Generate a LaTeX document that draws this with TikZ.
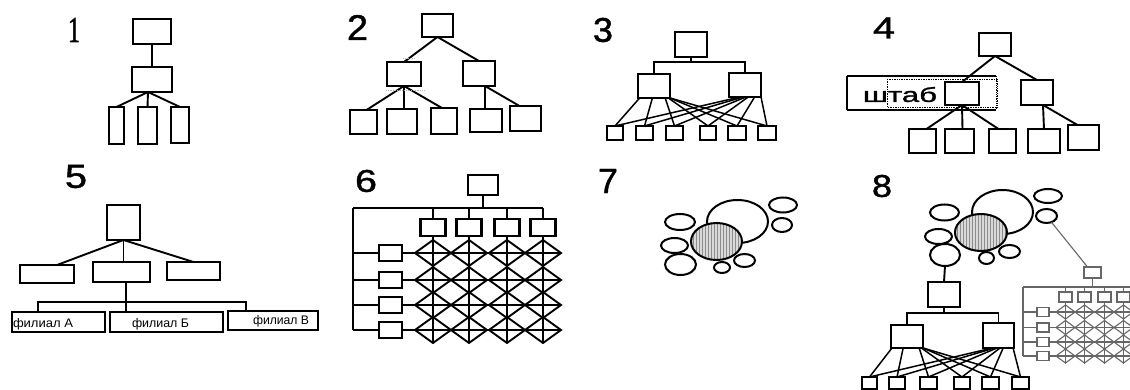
\documentclass[tikz,border=0pt]{standalone}
\usepackage{fontspec}
\setmainfont{Liberation Sans}
\newfontfamily\serifone[FakeBold=1.5]{Liberation Serif}
\newfontfamily\numfont[FakeBold=1.2]{Liberation Sans}
\usepackage{graphicx}
\usetikzlibrary{calc,fit,shapes.geometric,patterns}
\newcommand\mkbox[6][myb]{\node[#1,fit={(#3,#4) (#5,#6)}] (#2) {};}
\tikzset{
 myb/.style={draw, line width=2.1pt, inner sep=0pt, outer sep=0pt, rectangle},
 myl/.style={line width=1.9pt},
 myfan/.style={line width=1.5pt},
 myel/.style={ellipse, draw, line width=2pt, inner sep=0pt, outer sep=0pt},
 mydot/.style={myel, preaction={fill=gray!30}, pattern=vertical lines, pattern color=gray!90},
 mygb/.style={draw=black!60, line width=1.1pt, inner sep=0pt, outer sep=0pt, rectangle},
 mygl/.style={draw=black!60, line width=1.1pt},
 mynum/.style={inner sep=0pt, outer sep=0pt},
}
\begin{document}
\begin{tikzpicture}[x=1pt,y=-1pt]
\useasboundingbox (0,0) rectangle (1130,390);
\fill[white] (0,0) rectangle (1130,390);

% ---------- numbers
\node[mynum] (n1) at (74,30) {\resizebox{12pt}{24pt}{\serifone 1}};
\node[mynum] (n2) at (357.5,27.5) {\resizebox{21pt}{25pt}{\numfont 2}};
\node[mynum] (n3) at (603,30) {\resizebox{20pt}{24pt}{\numfont 3}};
\node[mynum] (n4) at (884,28) {\resizebox{22pt}{21pt}{\numfont 4}};
\node[mynum] (n5) at (76,176.5) {\resizebox{22pt}{23pt}{\numfont 5}};
\node[mynum] (n6) at (366,181) {\resizebox{22pt}{22pt}{\numfont 6}};
\node[mynum] (n7) at (608,181) {\resizebox{20pt}{24pt}{\numfont 7}};
\node[mynum] (n8) at (882,186) {\resizebox{20pt}{22pt}{\numfont 8}};

% ---------- 1
\mkbox{a1}{133}{19}{171}{44}
\mkbox{a2}{132}{67}{172}{92}
\mkbox{a3}{109}{107}{124}{144}
\mkbox{a4}{138}{107}{157}{144}
\mkbox{a5}{171}{107}{189}{143}
\coordinate (j1) at (148,92);
\draw[myl] (a1) -- (a2);
\draw[myl] (j1) -- (a3.north);
\draw[myl] (j1) -- (a4.north);
\draw[myl] (j1) -- (a5.north);

% ---------- 2
\mkbox{b0}{422}{14}{453}{37}
\mkbox{bL}{387}{62}{421}{86}
\mkbox{bR}{463}{61}{495}{86}
\mkbox{b1}{350}{110}{377}{134}
\mkbox{b2}{387}{109}{417}{134}
\mkbox{b3}{431}{108}{457}{134}
\mkbox{b4}{470}{109}{502}{132}
\mkbox{b5}{510}{106}{541}{131}
\draw[myl] (b0.south) -- (bL.north);
\draw[myl] (b0.south) -- (bR.north);
\draw[myl] (bL.south) -- ($(b1.north)+(3,0)$);
\draw[myl] (bL.south) -- ($(b2.north)+(2,0)$);
\draw[myl] (bL.south) -- ($(b3.north)+(-2,0)$);
\coordinate (j2R) at (485,86);
\draw[myl] (j2R) -- ($(b4.north)+(-1,0)$);
\draw[myl] (j2R) -- ($(b5.north)+(-6,0)$);
\draw[gray!60, densely dotted, line width=0.8pt] (403,58) -- (415,58);
\draw[gray!60, densely dotted, line width=0.8pt] (386,90) -- (424,90);

% ---------- 3
\mkbox{c0}{675}{32}{707}{57}
\mkbox{cL}{638}{74}{670}{98}
\mkbox{cR}{729}{73}{761}{97}
\mkbox{c1}{607}{126}{623}{140}
\mkbox{c2}{636}{126}{653}{140}
\mkbox{c3}{666}{126}{683}{140}
\mkbox{c4}{700}{126}{716}{140}
\mkbox{c5}{728}{126}{746}{140}
\mkbox{c6}{758}{126}{776}{140}
\coordinate (c0bus) at (691,62);
\draw[myl] (c0.south) -- (c0bus);
\draw[myl] (cL.north) -- (cL.north |- c0bus) -- (cR.north |- c0bus) -- (cR.north);
\foreach \fr/\bn in {0.05/c1,0.45/c2,0.85/c3,0.95/c4,1/c5,1/c6}
  \draw[myfan] ($(cL.south west)!\fr!(cL.south east)$) -- (\bn.north);
\foreach \fr/\bn in {0.34/c1,0.44/c2,0.53/c3,0.6/c4,0.8/c5,1/c6}
  \draw[myfan] ($(cR.south west)!\fr!(cR.south east)$) -- (\bn.north);

% ---------- 4
\node[inner sep=0pt, outer sep=0pt, fit={(847,76) (996,110)}] (dF) {};
\draw[line width=1.4pt] (dF.north east) -- (dF.north west);
\draw[line width=2.2pt] (dF.north west) -- (dF.south west);
\draw[line width=1.4pt] (dF.south west) -- (dF.south east);
\draw[densely dotted, line width=0.8pt] (dF.north east) -- (dF.south east);
\draw[densely dotted, line width=0.7pt] (887,79) rectangle (997,107);
\node[mynum] (dT) at (900,94.5) {\resizebox{74pt}{15pt}{\numfont штаб}};
\mkbox{d0}{979}{33}{1011}{56}
\mkbox{dS}{945}{82}{979}{105}
\mkbox{dR}{1021}{80}{1053}{105}
\mkbox{d1}{909}{129}{936}{153}
\mkbox{d2}{945}{129}{974}{153}
\mkbox{d3}{989}{129}{1016}{153}
\mkbox{d4}{1028}{129}{1060}{153}
\mkbox{d5}{1068}{125}{1099}{150}
\draw[myl] (d0.south) -- (dS.north);
\draw[myl] (d0.south) -- (dR.north);
\draw[myl] (dS.south) -- ($(d1.north)+(4,0)$);
\draw[myl] (dS.south) -- ($(d2.north)+(3,0)$);
\draw[myl] (dS.south) -- ($(d3.north)+(-4,0)$);
\coordinate (jdR) at (1043,105);
\draw[myl] (jdR) -- (d4.north);
\draw[myl] (jdR) -- ($(d5.north)+(-6,0)$);

% ---------- 5
\mkbox{e0}{107}{205}{140}{240}
\mkbox{e1}{20}{265}{74}{283}
\mkbox{e2}{93}{262}{150}{282}
\mkbox{e3}{167}{262}{220}{280}
\mkbox{f1}{12}{312}{105}{332}
\mkbox{f2}{110}{312}{223}{332}
\mkbox{f3}{228}{311}{318}{330}
\draw[myl] (e0.south) -- ($(e1.north)+(10,0)$);
\draw[myl] (e0.south) -- (e0.south |- e2.north);
\draw[myl] (e0.south) -- (e3.north);
\coordinate (e2s) at ($(e2.south)+(4.5,0)$);
\draw[myl] (e2s) -- (e2s |- f2.north);
\coordinate (bus5L) at (38,302);
\coordinate (bus5R) at (246,302);
\draw[line width=1.4pt] (bus5L |- f1.north) -- (bus5L) -- (bus5R) -- (bus5R |- f3.north);
\node[mynum, anchor=base west] (tf1) at (13,327.5) {\resizebox{60pt}{9pt}{филиал А}};
\node[mynum, anchor=base west] (tf2) at (132,327.5) {\resizebox{57pt}{9pt}{филиал Б}};
\node[mynum, anchor=base west] (tf3) at (253,324) {\resizebox{56pt}{9pt}{филиал В}};

% ---------- 6
\mkbox{g0}{468}{175}{498}{195}
\foreach \xx [count=\i] in {433,469,507,543}
  \node[myb, minimum width=25pt, minimum height=17pt] (g6c\i) at (\xx,227.5) {};
\foreach \yy [count=\i] in {253,280,305,330}
  \node[myb, minimum width=23pt, minimum height=16pt] (g6r\i) at (390.5,\yy) {};
\coordinate (g6bus) at (483,208);
\coordinate (g6L) at (353,208);
\draw[myl] (g0.south) -- (g6bus);
\draw[myl] (g6L) -- (g6c4.north |- g6bus);
\draw[myl] (g6L) -- (g6L |- g6r4);
\foreach \i in {1,...,4}{
  \draw[myl] (g6c\i.north |- g6bus) -- (g6c\i.north);
  \draw[myl] (g6L |- g6r\i) -- (g6r\i.west);
  \draw[myl] (g6r\i.east) -- ($(g6r\i.east -| g6c4)+(18,0)$);
  \draw[myl] (g6c\i.south) -- ($(g6c\i.south |- g6r4)+(0,13)$);
  \foreach \j in {1,...,4}
    \draw[myl] (g6c\i |- g6r\j) ++(-18,0) -- ++(18,-13) -- ++(18,13) -- ++(-18,13) -- cycle;
}

% ---------- 7
\node[myel, minimum width=61pt, minimum height=43pt] (h7big) at (737.5,221.5) {};
\node[myel, minimum width=30pt, minimum height=16pt] (h7a) at (680,222) {};
\node[myel, minimum width=27pt, minimum height=15pt] (h7b) at (674.5,245.5) {};
\node[myel, minimum width=31pt, minimum height=21pt] (h7c) at (680.5,264.5) {};
\node[myel, minimum width=16pt, minimum height=11pt] (h7d) at (722,267.5) {};
\node[myel, minimum width=21pt, minimum height=13pt] (h7e) at (744.5,260.5) {};
\node[myel, minimum width=28pt, minimum height=15pt] (h7f) at (783,205) {};
\node[myel, minimum width=20pt, minimum height=14pt] (h7g) at (782,225) {};
\node[mydot, minimum width=51pt, minimum height=37pt] (h7s) at (716.5,241.5) {};

% ---------- 8 : cluster
\node[myel, minimum width=61pt, minimum height=44pt] (i8big) at (1002.5,212) {};
\node[myel, minimum width=29pt, minimum height=16pt] (i8a) at (944.5,212.5) {};
\node[myel, minimum width=27pt, minimum height=15pt] (i8b) at (938.5,236.5) {};
\node[myel, minimum width=30pt, minimum height=22pt] (i8c) at (945,255) {};
\node[myel, minimum width=15pt, minimum height=12pt] (i8d) at (986.5,258) {};
\node[myel, minimum width=21pt, minimum height=13pt] (i8e) at (1009.5,251.5) {};
\node[myel, minimum width=28pt, minimum height=14pt] (i8f) at (1048,196) {};
\node[myel, minimum width=21pt, minimum height=14pt] (i8g) at (1046.5,216) {};
\node[mydot, minimum width=52pt, minimum height=37pt] (i8s) at (981,232.5) {};

% ---------- 8 : hierarchy
\mkbox{k0}{928}{282}{960}{307}
\mkbox{kL}{891}{325}{923}{348}
\mkbox{kR}{983}{323}{1014}{348}
\mkbox{k1}{862}{377}{877}{389}
\mkbox{k2}{889}{377}{905}{389}
\mkbox{k3}{920}{377}{937}{389}
\mkbox{k4}{954}{377}{970}{389}
\mkbox{k5}{982}{377}{999}{389}
\mkbox{k6}{1012}{377}{1029}{389}
\draw[myl] (i8c.south) -- (k0.north);
\coordinate (k0bus) at (944,313);
\draw[myl] (k0.south) -- (k0bus);
\draw[myl] (kL.north) -- (kL.north |- k0bus) -- (kR.north |- k0bus) -- (kR.north);
\foreach \fr/\bn in {0.03/k1,0.38/k2,0.88/k3,0.95/k4,1/k5,1/k6}
  \draw[myfan] ($(kL.south west)!\fr!(kL.south east)$) -- (\bn.north);
\foreach \fr/\bn in {0.3/k1,0.37/k2,0.45/k3,0.55/k4,0.65/k5,0.97/k6}
  \draw[myfan] ($(kR.south west)!\fr!(kR.south east)$) -- (\bn.north);

% ---------- 8 : matrix (grey)
\begin{scope}
\clip (0,0) rectangle (1130,390);
\mkbox[mygb]{gt}{1084}{267}{1101}{278}
\draw[mygl] (i8g) -- ($(gt.north)+(-5,0)$);
\foreach \xx [count=\i] in {1065.5,1084.5,1104.5,1123.5}
  \node[mygb, minimum width=13pt, minimum height=10pt] (gc\i) at (\xx,297) {};
\foreach \yy [count=\i] in {312,327.5,342,356}
  \node[mygb, minimum width=12pt, minimum height=9pt] (gr\i) at (1043,\yy) {};
\coordinate (gbus) at (1092.5,287);
\coordinate (gL) at (1023,287);
\draw[mygl] (gt.south) -- (gbus);
\draw[mygl] (gL) -- ($(gc4.north |- gbus)+(12,0)$);
\draw[mygl] (gL) -- (gL |- gr4);
\foreach \i in {1,...,4}{
  \draw[mygl] (gc\i.north |- gbus) -- (gc\i.north);
  \draw[mygl] (gL |- gr\i) -- (gr\i.west);
  \draw[mygl] (gr\i.east) -- ($(gr\i.east -| gc4)+(14,0)$);
  \draw[mygl] (gc\i.south) -- ($(gc\i.south |- gr4)+(0,8)$);
  \foreach \j in {1,...,4}
    \draw[mygl] (gc\i |- gr\j) ++(-9.5,0) -- ++(9.5,-7) -- ++(9.5,7) -- ++(-9.5,7) -- cycle;
}
\end{scope}
\end{tikzpicture}
\end{document}
